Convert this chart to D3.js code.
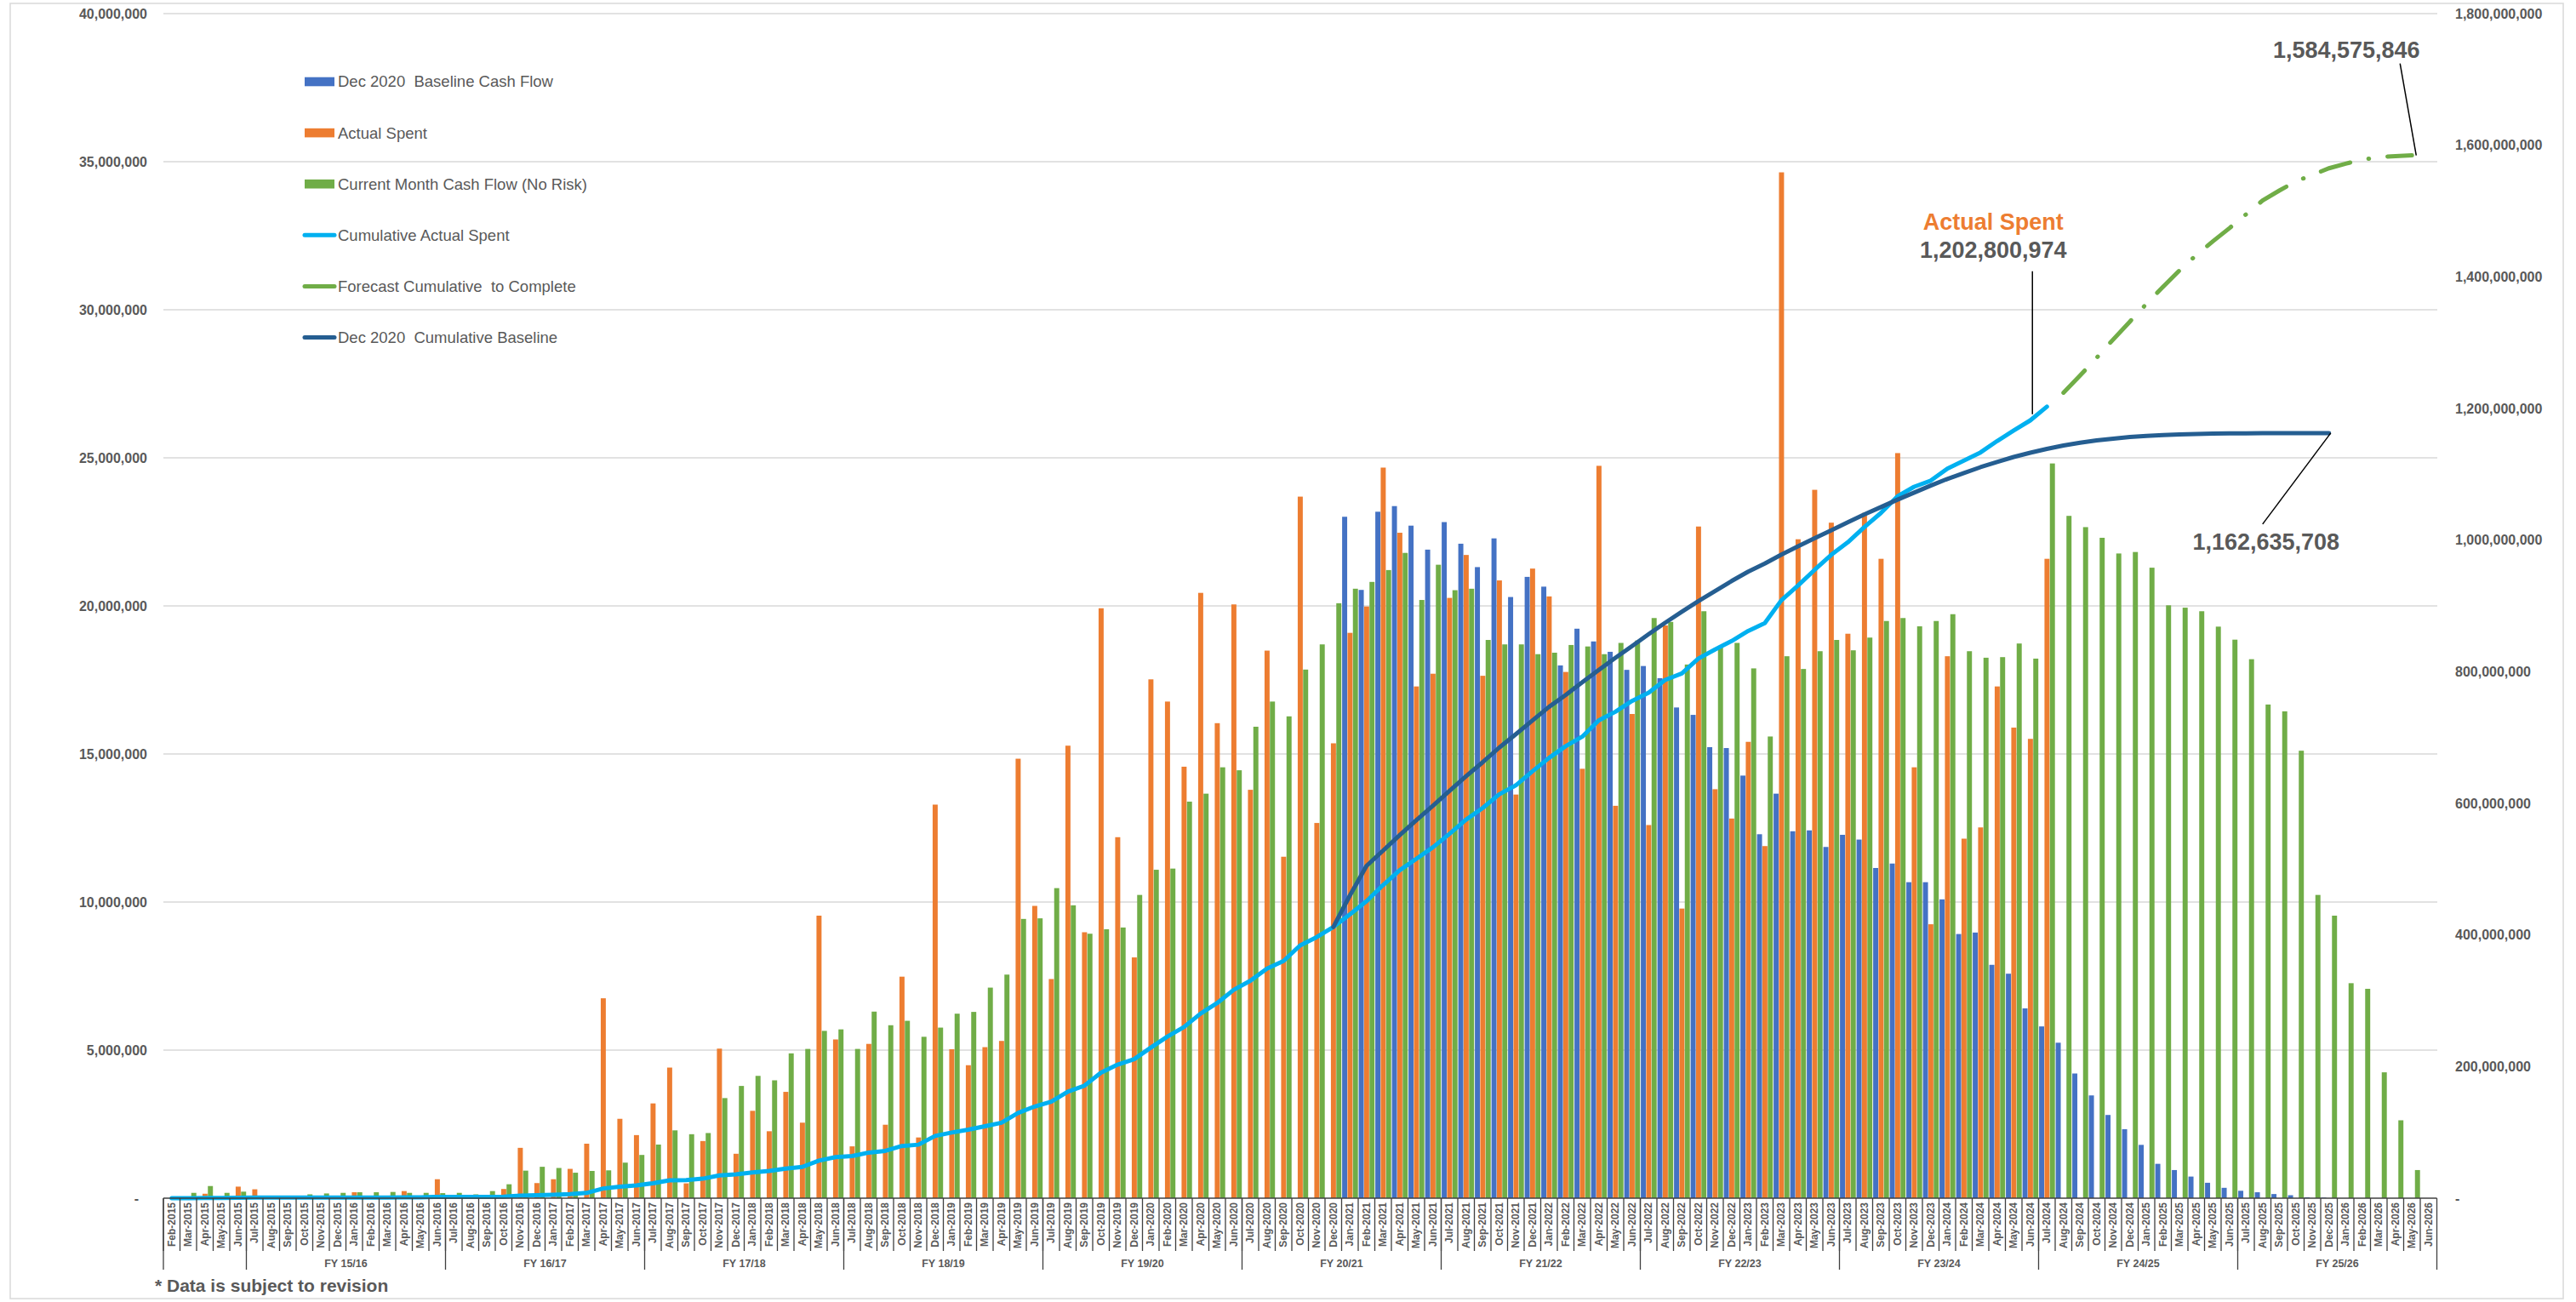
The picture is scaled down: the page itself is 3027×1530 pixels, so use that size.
<!DOCTYPE html>
<html>
<head>
<meta charset="utf-8">
<script src="https://cdn.jsdelivr.net/npm/d3@7"></script>
<style>
  body { margin: 0; background: #fff; }
  svg { font-family: 'Liberation Sans', Arial, sans-serif; }
</style>
</head>
<body>
<script>
// ---- data (values in millions) ----
var months = [
  'Feb-2015', 'Mar-2015', 'Apr-2015', 'May-2015', 'Jun-2015', 'Jul-2015', 'Aug-2015', 'Sep-2015', 'Oct-2015', 'Nov-2015', 'Dec-2015',
  'Jan-2016', 'Feb-2016', 'Mar-2016', 'Apr-2016', 'May-2016', 'Jun-2016', 'Jul-2016', 'Aug-2016', 'Sep-2016', 'Oct-2016', 'Nov-2016', 'Dec-2016',
  'Jan-2017', 'Feb-2017', 'Mar-2017', 'Apr-2017', 'May-2017', 'Jun-2017', 'Jul-2017', 'Aug-2017', 'Sep-2017', 'Oct-2017', 'Nov-2017', 'Dec-2017',
  'Jan-2018', 'Feb-2018', 'Mar-2018', 'Apr-2018', 'May-2018', 'Jun-2018', 'Jul-2018', 'Aug-2018', 'Sep-2018', 'Oct-2018', 'Nov-2018', 'Dec-2018',
  'Jan-2019', 'Feb-2019', 'Mar-2019', 'Apr-2019', 'May-2019', 'Jun-2019', 'Jul-2019', 'Aug-2019', 'Sep-2019', 'Oct-2019', 'Nov-2019', 'Dec-2019',
  'Jan-2020', 'Feb-2020', 'Mar-2020', 'Apr-2020', 'May-2020', 'Jun-2020', 'Jul-2020', 'Aug-2020', 'Sep-2020', 'Oct-2020', 'Nov-2020', 'Dec-2020',
  'Jan-2021', 'Feb-2021', 'Mar-2021', 'Apr-2021', 'May-2021', 'Jun-2021', 'Jul-2021', 'Aug-2021', 'Sep-2021', 'Oct-2021', 'Nov-2021', 'Dec-2021',
  'Jan-2022', 'Feb-2022', 'Mar-2022', 'Apr-2022', 'May-2022', 'Jun-2022', 'Jul-2022', 'Aug-2022', 'Sep-2022', 'Oct-2022', 'Nov-2022', 'Dec-2022',
  'Jan-2023', 'Feb-2023', 'Mar-2023', 'Apr-2023', 'May-2023', 'Jun-2023', 'Jul-2023', 'Aug-2023', 'Sep-2023', 'Oct-2023', 'Nov-2023', 'Dec-2023',
  'Jan-2024', 'Feb-2024', 'Mar-2024', 'Apr-2024', 'May-2024', 'Jun-2024', 'Jul-2024', 'Aug-2024', 'Sep-2024', 'Oct-2024', 'Nov-2024', 'Dec-2024',
  'Jan-2025', 'Feb-2025', 'Mar-2025', 'Apr-2025', 'May-2025', 'Jun-2025', 'Jul-2025', 'Aug-2025', 'Sep-2025', 'Oct-2025', 'Nov-2025', 'Dec-2025',
  'Jan-2026', 'Feb-2026', 'Mar-2026', 'Apr-2026', 'May-2026', 'Jun-2026'
]

var fyGroups = [
  {label: '', from: 'Feb-2015', to: 'Jun-2015'},
  {label: 'FY 15/16', from: 'Jul-2015', to: 'Jun-2016'},
  {label: 'FY 16/17', from: 'Jul-2016', to: 'Jun-2017'},
  {label: 'FY 17/18', from: 'Jul-2017', to: 'Jun-2018'},
  {label: 'FY 18/19', from: 'Jul-2018', to: 'Jun-2019'},
  {label: 'FY 19/20', from: 'Jul-2019', to: 'Jun-2020'},
  {label: 'FY 20/21', from: 'Jul-2020', to: 'Jun-2021'},
  {label: 'FY 21/22', from: 'Jul-2021', to: 'Jun-2022'},
  {label: 'FY 22/23', from: 'Jul-2022', to: 'Jun-2023'},
  {label: 'FY 23/24', from: 'Jul-2023', to: 'Jun-2024'},
  {label: 'FY 24/25', from: 'Jul-2024', to: 'Jun-2025'},
  {label: 'FY 25/26', from: 'Jul-2025', to: 'Jun-2026'}
]

// Dec 2020 Baseline Cash Flow, Jan-2021 .. Dec-2025
var baselineStart = 'Jan-2021'
var baselineCash = [
  23.01, 20.54, 23.18, 23.37, 22.71, 21.90, 22.83, 22.10, 21.31, 22.28, 20.30, 20.98,
  20.65, 17.99, 19.23, 18.80, 18.45, 17.84, 17.97, 17.56, 16.57, 16.32, 15.23, 15.20,
  14.27, 12.29, 13.66, 12.39, 12.42, 11.86, 12.27, 12.11, 11.15, 11.30, 10.67, 10.67,
  10.09, 8.92, 8.97, 7.88, 7.58, 6.41, 5.80, 5.25, 4.21, 3.47, 2.81, 2.33,
  1.80, 1.16, 0.95, 0.73, 0.52, 0.35, 0.25, 0.20, 0.14, 0.10, 0.03, 0.02
]

// Actual Spent, Feb-2015 .. Jul-2024
var actualStart = 'Feb-2015'
var actualSpent = [
  0, 0, 0.15, 0.05, 0.39, 0.30, 0, 0, 0, 0, 0,
  0.20, 0, 0, 0.24, 0, 0.64, 0, 0, 0, 0.31, 1.70, 0.51,
  0.64, 0.99, 1.84, 6.75, 2.68, 2.13, 3.20, 4.41, 0.50, 1.93, 5.05, 1.50,
  2.95, 2.26, 3.59, 2.55, 9.54, 5.36, 1.75, 5.21, 2.48, 7.48, 2.05, 13.29,
  5.03, 4.49, 5.10, 5.31, 14.84, 9.87, 7.40, 15.28, 8.98, 19.92, 12.19, 8.13,
  17.52, 16.77, 14.57, 20.44, 16.04, 20.05, 13.79, 18.49, 11.53, 23.69, 12.67, 15.36,
  19.09, 19.98, 24.67, 22.47, 17.28, 17.71, 20.27, 21.72, 17.64, 20.86, 13.63, 21.26,
  20.32, 17.77, 14.50, 24.73, 13.25, 16.35, 12.60, 19.34, 9.78, 22.68, 13.81, 12.82,
  15.41, 11.89, 34.64, 22.25, 23.92, 22.81, 19.06, 23.14, 21.59, 25.16, 14.55, 9.25,
  18.30, 12.14, 12.52, 17.28, 15.89, 15.51, 21.59
]

// Current Month Cash Flow (No Risk), Feb-2015 .. May-2026
var currentStart = 'Feb-2015'
var currentMonth = [
  0, 0.18, 0.41, 0.18, 0.22, 0.05, 0, 0, 0.13, 0.16, 0.18,
  0.20, 0.20, 0.21, 0.18, 0.18, 0.17, 0.18, 0.13, 0.24, 0.47, 0.93, 1.06,
  1.02, 0.86, 0.92, 0.94, 1.20, 1.46, 1.81, 2.29, 2.16, 2.20, 3.38, 3.79,
  4.13, 3.98, 4.89, 5.04, 5.65, 5.70, 5.04, 6.30, 5.84, 5.99, 5.45, 5.76,
  6.23, 6.29, 7.11, 7.55, 9.43, 9.45, 10.47, 9.89, 8.93, 9.08, 9.14, 10.24,
  11.09, 11.13, 13.39, 13.66, 14.55, 14.45, 15.92, 16.77, 16.27, 17.85, 18.70, 20.09,
  20.58, 20.81, 21.21, 21.79, 20.20, 21.39, 20.53, 20.58, 18.85, 18.70, 18.70, 18.37,
  18.42, 18.68, 18.63, 18.37, 18.75, 18.83, 19.59, 19.46, 18.02, 19.82, 18.60, 18.75,
  17.89, 15.59, 18.30, 17.87, 18.47, 18.85, 18.50, 18.93, 19.49, 19.59, 19.31, 19.49,
  19.72, 18.47, 18.25, 18.27, 18.73, 18.22, 24.81, 23.04, 22.66, 22.30, 21.77, 21.82,
  21.29, 20.02, 19.94, 19.82, 19.30, 18.86, 18.20, 16.67, 16.44, 15.11, 10.24, 9.54,
  7.26, 7.07, 4.25, 2.63, 0.95
]

// Cumulative Actual Spent, Feb-2015 .. Jul-2024
var cumActualStart = 'Feb-2015'
var cumActual = [
  0, 0, 0.2, 0.2, 0.6, 0.9, 0.9, 0.9, 0.9, 0.9, 0.9,
  1.1, 1.1, 1.1, 1.3, 1.3, 2.0, 2.0, 2.0, 2.0, 2.3, 4.0, 4.5,
  5.1, 6.1, 8.0, 14.7, 17.4, 19.5, 22.7, 27.1, 27.6, 29.6, 34.6, 36.1,
  39.1, 41.3, 44.9, 47.5, 57.0, 62.4, 64.1, 69.3, 71.8, 79.3, 81.3, 94.6,
  99.7, 104.1, 109.2, 114.6, 129.4, 139.3, 146.7, 161.9, 170.9, 190.8, 203.0, 211.2,
  228.7, 245.5, 260.0, 280.5, 296.5, 316.6, 330.3, 348.8, 360.4, 384.1, 396.7, 412.1,
  431.2, 451.2, 475.8, 498.3, 515.6, 533.3, 553.6, 575.3, 592.9, 613.8, 627.4, 648.7,
  669.0, 686.8, 701.3, 726.0, 739.2, 755.6, 768.2, 787.5, 797.3, 820.0, 833.8, 846.6,
  862.0, 873.9, 908.6, 930.8, 954.7, 977.5, 996.6, 1019.7, 1041.3, 1066.5, 1081.0, 1090.3,
  1108.6, 1120.7, 1133.2, 1150.5, 1166.4, 1181.9, 1202.800974
]

// Forecast Cumulative to Complete, Aug-2024 .. May-2026
var forecastStart = 'Aug-2024'
var forecastCum = [
  1224, 1250, 1277, 1305, 1332,
  1359, 1385, 1410, 1433, 1454, 1474, 1495, 1516, 1531, 1545, 1555, 1565,
  1572, 1578, 1582, 1583.5, 1584.575846
]

// Dec 2020 Cumulative Baseline, Dec-2020 .. Dec-2025
var cumBaselineStart = 'Dec-2020'
var cumBaseline = [
  412.1,
  460.0, 505.0, 528.2, 551.6, 574.3, 596.2, 619.0, 641.1, 662.4, 684.7, 705.0, 726.0,
  746.6, 764.6, 783.8, 802.6, 821.1, 838.9, 856.9, 874.5, 891.0, 907.3, 922.6, 937.8,
  952.0, 964.3, 978.0, 990.4, 1002.8, 1014.7, 1026.9, 1039.0, 1050.2, 1061.5, 1072.2, 1082.8,
  1092.9, 1101.8, 1110.8, 1118.7, 1126.3, 1132.7, 1138.5, 1143.7, 1147.9, 1151.4, 1154.2, 1156.6,
  1158.4, 1159.5, 1160.5, 1161.2, 1161.7, 1162.1, 1162.3, 1162.5, 1162.6, 1162.6, 1162.6, 1162.635708
]

var leftTicks = [0, 5, 10, 15, 20, 25, 30, 35, 40]
var rightTicks = [0, 200, 400, 600, 800, 1000, 1200, 1400, 1600, 1800]

var legendItems = [
  {label: 'Dec 2020  Baseline Cash Flow', type: 'bar', color: '#4472C4'},
  {label: 'Actual Spent', type: 'bar', color: '#ED7D31'},
  {label: 'Current Month Cash Flow (No Risk)', type: 'bar', color: '#70AD47'},
  {label: 'Cumulative Actual Spent', type: 'line', color: '#00B0F0'},
  {label: 'Forecast Cumulative  to Complete', type: 'line', color: '#70AD47'},
  {label: 'Dec 2020  Cumulative Baseline', type: 'line', color: '#255E91'}
]

// ---- layout ----
var width = 3027, height = 1530
var margin = {top: 16, right: 163, bottom: 122, left: 192}
var plotRight = width - margin.right
var plotBottom = height - margin.bottom
var textColor = '#595959'

function seriesFrom (start, values) {
  var i0 = months.indexOf(start)
  return values.map(function (v, i) { return {month: months[i0 + i], value: v} })
}

var x = d3.scaleBand()
  .domain(months)
  .range([margin.left, margin.left + months.length * 19.5])

var x1 = d3.scaleBand()
  .domain(['baseline', 'actual', 'current'])
  .range([0.6, x.bandwidth() - 0.3])
  .paddingInner(0.06)

var yL = d3.scaleLinear().domain([0, 40]).range([plotBottom, margin.top])
var yR = d3.scaleLinear().domain([0, 1800]).range([plotBottom, margin.top])

function cx (m) { return x(m) + x.bandwidth() / 2 }

var svg = d3.select('body').append('svg')
  .attr('width', width)
  .attr('height', height)

svg.append('rect')
  .attr('x', 12).attr('y', 4)
  .attr('width', 3000).attr('height', 1522)
  .attr('fill', 'none')
  .attr('stroke', '#D9D9D9')
  .attr('stroke-width', 1.5)

// gridlines
svg.append('g').selectAll('line')
  .data(leftTicks.slice(1))
  .enter().append('line')
  .attr('x1', margin.left).attr('x2', plotRight)
  .attr('y1', function (d) { return yL(d) }).attr('y2', function (d) { return yL(d) })
  .attr('stroke', '#D9D9D9')
  .attr('stroke-width', 1.5)

// bars
var barSeries = [
  {key: 'baseline', color: '#4472C4', data: seriesFrom(baselineStart, baselineCash)},
  {key: 'actual', color: '#ED7D31', data: seriesFrom(actualStart, actualSpent)},
  {key: 'current', color: '#70AD47', data: seriesFrom(currentStart, currentMonth)}
]

barSeries.forEach(function (s) {
  svg.append('g')
    .attr('class', 'bars ' + s.key)
    .selectAll('rect')
    .data(s.data.filter(function (d) { return d.value > 0 }))
    .enter().append('rect')
    .attr('x', function (d) { return x(d.month) + x1(s.key) })
    .attr('y', function (d) { return yL(d.value) })
    .attr('width', x1.bandwidth())
    .attr('height', function (d) { return yL(0) - yL(d.value) })
    .attr('fill', s.color)
})

// lines
var line = d3.line()
  .x(function (d) { return cx(d.month) })
  .y(function (d) { return yR(d.value) })

var cumActualData = seriesFrom(cumActualStart, cumActual)
var forecastData = seriesFrom(forecastStart, forecastCum)
var cumBaselineData = seriesFrom(cumBaselineStart, cumBaseline)

svg.append('path')
  .datum(cumActualData)
  .attr('d', line)
  .attr('fill', 'none')
  .attr('stroke', '#00B0F0')
  .attr('stroke-width', 5)
  .attr('stroke-linejoin', 'round')
  .attr('stroke-linecap', 'round')

svg.append('path')
  .datum(forecastData)
  .attr('d', line)
  .attr('fill', 'none')
  .attr('stroke', '#70AD47')
  .attr('stroke-width', 5)
  .attr('stroke-linecap', 'round')
  .attr('stroke-dasharray', '36,22,0.5,22')

svg.append('path')
  .datum(cumBaselineData)
  .attr('d', line)
  .attr('fill', 'none')
  .attr('stroke', '#255E91')
  .attr('stroke-width', 5)
  .attr('stroke-linejoin', 'round')
  .attr('stroke-linecap', 'round')

// axes
var fmt = d3.format(',')
var yAxisL = d3.axisLeft(yL)
  .tickValues(leftTicks)
  .tickSize(0)
  .tickPadding(19)
  .tickFormat(function (d) { return d === 0 ? '-' : fmt(d * 1e6) })

var yAxisR = d3.axisRight(yR)
  .tickValues(rightTicks)
  .tickSize(0)
  .tickPadding(21)
  .tickFormat(function (d) { return d === 0 ? '-' : fmt(d * 1e6) })

var gL = svg.append('g')
  .attr('transform', 'translate(' + margin.left + ',0)')
  .call(yAxisL)
var gR = svg.append('g')
  .attr('transform', 'translate(' + plotRight + ',0)')
  .call(yAxisR)

;[gL, gR].forEach(function (g) {
  g.select('.domain').remove()
  g.selectAll('text')
    .attr('fill', textColor)
    .style('font-size', '16px')
    .style('font-weight', 'bold')
    .style('font-family', "'Liberation Sans', Arial, sans-serif")
})
gL.selectAll('.tick').filter(function (d) { return d === 0 }).select('text').attr('dx', -10)

// category axis
var xEnd = x.range()[1]
var axisG = svg.append('g').attr('class', 'x axis')

axisG.append('line')
  .attr('x1', margin.left).attr('x2', xEnd)
  .attr('y1', plotBottom).attr('y2', plotBottom)
  .attr('stroke', '#404040')
  .attr('stroke-width', 1.5)

var groupEdges = fyGroups.map(function (g) { return x(g.from) }).concat([xEnd])
var monthEdges = months.map(function (m) { return x(m) })

axisG.selectAll('line.mtick')
  .data(monthEdges)
  .enter().append('line')
  .attr('class', 'mtick')
  .attr('x1', function (d) { return d }).attr('x2', function (d) { return d })
  .attr('y1', plotBottom).attr('y2', plotBottom + 62)
  .attr('stroke', '#404040')
  .attr('stroke-width', 1.3)

axisG.selectAll('line.gtick')
  .data(groupEdges)
  .enter().append('line')
  .attr('class', 'gtick')
  .attr('x1', function (d) { return d }).attr('x2', function (d) { return d })
  .attr('y1', plotBottom).attr('y2', plotBottom + 84)
  .attr('stroke', '#404040')
  .attr('stroke-width', 1.3)

axisG.selectAll('text.month')
  .data(months)
  .enter().append('text')
  .attr('class', 'month')
  .attr('transform', function (d) { return 'translate(' + cx(d) + ',' + (plotBottom + 5) + ') rotate(-90)' })
  .attr('text-anchor', 'end')
  .attr('dy', '0.35em')
  .attr('fill', textColor)
  .style('font-size', '12px')
  .style('font-weight', 'bold')
  .text(function (d) { return d })

axisG.selectAll('text.fy')
  .data(fyGroups)
  .enter().append('text')
  .attr('class', 'fy')
  .attr('x', function (g) { return (x(g.from) + x(g.to) + x.bandwidth()) / 2 })
  .attr('y', plotBottom + 81)
  .attr('text-anchor', 'middle')
  .attr('fill', textColor)
  .style('font-size', '12.5px')
  .style('font-weight', 'bold')
  .text(function (g) { return g.label })

// legend
var legendY = d3.scalePoint()
  .domain(legendItems.map(function (d) { return d.label }))
  .range([96, 396.5])

var legend = svg.append('g').attr('class', 'legend')
legendItems.forEach(function (item) {
  var ly = legendY(item.label)
  if (item.type === 'bar') {
    legend.append('rect')
      .attr('x', 358).attr('y', ly - 5.3)
      .attr('width', 35).attr('height', 10.6)
      .attr('fill', item.color)
  } else {
    legend.append('line')
      .attr('x1', 358).attr('x2', 393)
      .attr('y1', ly).attr('y2', ly)
      .attr('stroke', item.color)
      .attr('stroke-width', 5)
      .attr('stroke-linecap', 'round')
  }
  legend.append('text')
    .attr('x', 397).attr('y', ly)
    .attr('dy', '0.35em')
    .attr('fill', textColor)
    .style('font-size', '18.5px')
    .style('white-space', 'pre')
    .text(item.label)
})

// callouts on the last points
function lastPoint (data) {
  var d = data[data.length - 1]
  return {x: cx(d.month), y: yR(d.value), value: d.value}
}
function fmtTotal (v) { return fmt(Math.round(v * 1e6)) }

var callouts = svg.append('g').attr('class', 'callouts')

var pA = lastPoint(cumActualData)
callouts.append('text')
  .attr('x', pA.x - 63).attr('y', pA.y - 208)
  .attr('text-anchor', 'middle')
  .attr('fill', '#ED7D31')
  .style('font-size', '27px').style('font-weight', 'bold')
  .text('Actual Spent')
callouts.append('text')
  .attr('x', pA.x - 63).attr('y', pA.y - 175)
  .attr('text-anchor', 'middle')
  .attr('fill', textColor)
  .style('font-size', '27px').style('font-weight', 'bold')
  .text(fmtTotal(pA.value))
callouts.append('line')
  .attr('x1', pA.x - 17).attr('x2', pA.x - 17)
  .attr('y1', pA.y - 159).attr('y2', pA.y + 9)
  .attr('stroke', '#000').attr('stroke-width', 1.5)

var pB = lastPoint(cumBaselineData)
callouts.append('text')
  .attr('x', pB.x - 74).attr('y', pB.y + 137)
  .attr('text-anchor', 'middle')
  .attr('fill', textColor)
  .style('font-size', '27px').style('font-weight', 'bold')
  .text(fmtTotal(pB.value))
callouts.append('line')
  .attr('x1', pB.x - 78).attr('y1', pB.y + 107)
  .attr('x2', pB.x + 2).attr('y2', pB.y)
  .attr('stroke', '#000').attr('stroke-width', 1.5)

var pF = lastPoint(forecastData)
callouts.append('text')
  .attr('x', pF.x - 77).attr('y', pF.y - 115)
  .attr('text-anchor', 'middle')
  .attr('fill', textColor)
  .style('font-size', '27px').style('font-weight', 'bold')
  .text(fmtTotal(pF.value))
callouts.append('line')
  .attr('x1', pF.x - 14).attr('y1', pF.y - 108)
  .attr('x2', pF.x + 5).attr('y2', pF.y)
  .attr('stroke', '#000').attr('stroke-width', 1.5)

// footnote
svg.append('text')
  .attr('x', 182).attr('y', 1518)
  .attr('fill', textColor)
  .style('font-size', '21px').style('font-weight', 'bold')
  .text('* Data is subject to revision')
</script>
</body>
</html>
